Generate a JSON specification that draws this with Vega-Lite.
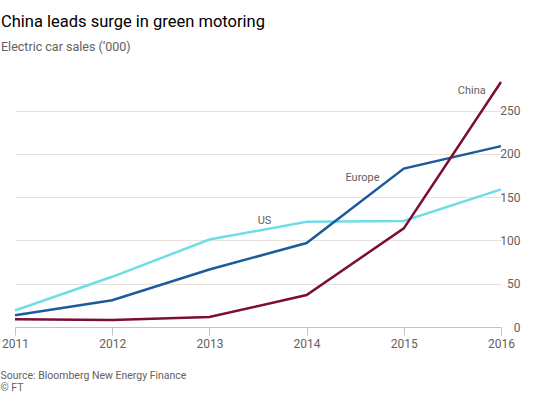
{
  "$schema": "https://vega.github.io/schema/vega-lite/v6.json",
  "width": 486,
  "height": 251,
  "autosize": {"type": "none"},
  "padding": {"left": 15, "top": 76, "right": 49, "bottom": 66},
  "background": "#ffffff",
  "title": {
    "text": "China leads surge in green motoring",
    "subtitle": "Electric car sales (‘000)",
    "anchor": "start",
    "frame": "group",
    "dx": -14,
    "offset": 23,
    "font": "Roboto",
    "fontSize": 16.5,
    "fontWeight": "normal",
    "color": "#000000",
    "subtitleFont": "Roboto",
    "subtitleFontSize": 12.5,
    "subtitleColor": "#66605c",
    "subtitlePadding": 10
  },
  "config": {
    "view": {"stroke": null},
    "font": "Roboto"
  },
  "datasets": {
    "sales": [
      {"year": 2011, "region": "US", "sales": 19},
      {"year": 2012, "region": "US", "sales": 58},
      {"year": 2013, "region": "US", "sales": 101},
      {"year": 2014, "region": "US", "sales": 121.5},
      {"year": 2015, "region": "US", "sales": 122.5},
      {"year": 2016, "region": "US", "sales": 159},
      {"year": 2011, "region": "Europe", "sales": 13.5},
      {"year": 2012, "region": "Europe", "sales": 31},
      {"year": 2013, "region": "Europe", "sales": 66.5},
      {"year": 2014, "region": "Europe", "sales": 97},
      {"year": 2015, "region": "Europe", "sales": 183},
      {"year": 2016, "region": "Europe", "sales": 209},
      {"year": 2011, "region": "China", "sales": 9},
      {"year": 2012, "region": "China", "sales": 8},
      {"year": 2013, "region": "China", "sales": 11.5},
      {"year": 2014, "region": "China", "sales": 37},
      {"year": 2015, "region": "China", "sales": 114},
      {"year": 2016, "region": "China", "sales": 283}
    ],
    "labels": [
      {"label": "China", "year": 2015.7, "sales": 273},
      {"label": "Europe", "year": 2014.575, "sales": 171.6},
      {"label": "US", "year": 2013.567, "sales": 123}
    ]
  },
  "layer": [
    {
      "data": {"name": "sales"},
      "mark": {"type": "line", "strokeWidth": 2.5, "clip": false},
      "encoding": {
        "x": {
          "field": "year",
          "type": "quantitative",
          "scale": {"domain": [2011, 2016], "nice": false, "zero": false},
          "axis": {
            "values": [2011, 2012, 2013, 2014, 2015, 2016],
            "format": "d",
            "grid": false,
            "labelFlush": false,
            "domainColor": "#ccc1b7",
            "domainWidth": 1,
            "tickColor": "#ccc1b7",
            "tickSize": 8,
            "labelPadding": 3,
            "labelFontSize": 12,
            "labelColor": "#66605c",
            "labelFont": "Roboto",
            "title": ["Source: Bloomberg New Energy Finance", "© FT"],
            "titleAnchor": "start",
            "titleAlign": "left",
            "titleBaseline": "alphabetic",
            "titleX": -15,
            "titleY": 51,
            "titleFontSize": 10.5,
            "titleFontWeight": "normal",
            "titleColor": "#66605c",
            "titleFont": "Roboto",
            "titleLineHeight": 12.5
          }
        },
        "y": {
          "field": "sales",
          "type": "quantitative",
          "scale": {"domain": [0, 290], "nice": false},
          "axis": {
            "orient": "right",
            "values": [0, 50, 100, 150, 200, 250],
            "domain": false,
            "ticks": false,
            "grid": true,
            "gridColor": "#e9e1d9",
            "gridWidth": 1,
            "labelAlign": "right",
            "labelPadding": 19,
            "labelFontSize": 12,
            "labelColor": "#66605c",
            "labelFont": "Roboto",
            "title": null
          }
        },
        "color": {
          "field": "region",
          "type": "nominal",
          "scale": {"domain": ["US", "Europe", "China"], "range": ["#70dde6", "#1b5b9b", "#7a0e37"]},
          "legend": null
        }
      }
    },
    {
      "data": {"name": "labels"},
      "mark": {"type": "text", "fontSize": 11, "color": "#66605c", "baseline": "middle", "align": "center", "font": "Roboto"},
      "encoding": {
        "x": {"field": "year", "type": "quantitative"},
        "y": {"field": "sales", "type": "quantitative"},
        "text": {"field": "label"}
      }
    }
  ]
}
